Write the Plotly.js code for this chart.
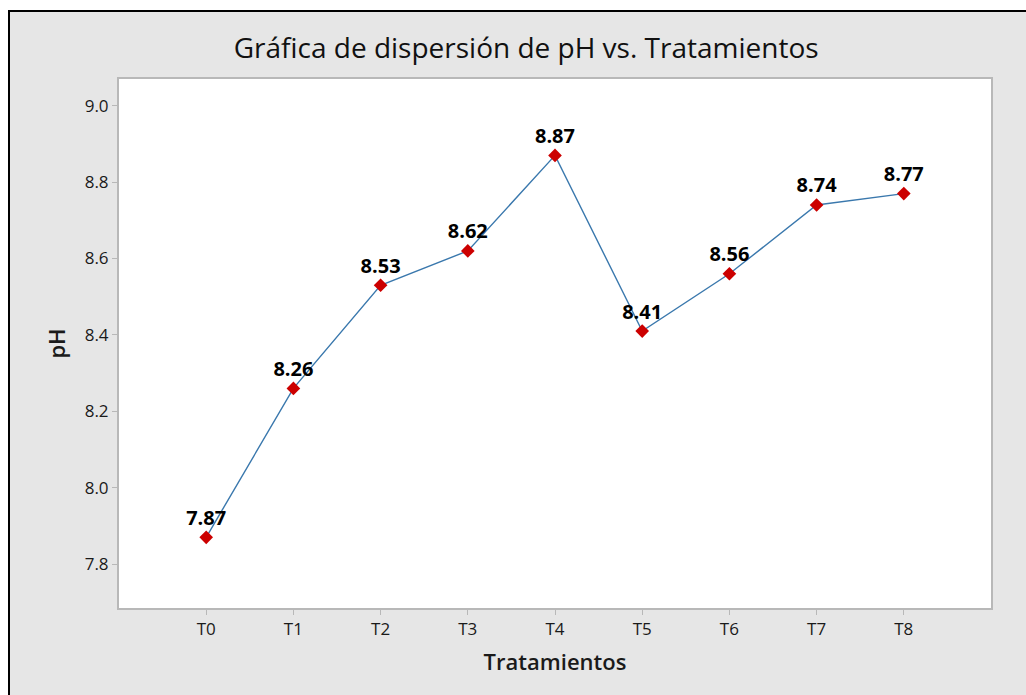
<!DOCTYPE html>
<html>
<head>
<meta charset="utf-8">
<script src="https://cdn.plot.ly/plotly-3.0.1.min.js"></script>
<style>
  html, body { margin: 0; padding: 0; background: #ffffff; width: 1026px; height: 695px; overflow: hidden; }
  #frame { position: absolute; left: 8px; top: 10px; width: 1018px; height: 685px; background: #e6e6e6;
           border-top: 2px solid #000; border-left: 2px solid #000; box-sizing: border-box; }
  #chart { position: absolute; left: 0; top: 0; width: 1016px; height: 683px; }
</style>
</head>
<body>
<div id="frame"><div id="chart"></div></div>
<script>
const categories = ["T0", "T1", "T2", "T3", "T4", "T5", "T6", "T7", "T8"];
const phValues = [7.87, 8.26, 8.53, 8.62, 8.87, 8.41, 8.56, 8.74, 8.77];
const phLabels = ["7.87", "8.26", "8.53", "8.62", "8.87", "8.41", "8.56", "8.74", "8.77"];
const yTickVals = [7.8, 8.0, 8.2, 8.4, 8.6, 8.8, 9.0];
const yTickText = ["7.8", "8.0", "8.2", "8.4", "8.6", "8.8", "9.0"];

const FONT = '"Open Sans", "Noto Sans", sans-serif';

const trace = {
  type: 'scatter',
  mode: 'lines+markers+text',
  x: categories,
  y: phValues,
  text: phLabels,
  textposition: 'top center',
  textfont: { family: FONT, size: 20, color: '#000000', weight: 'bold' },
  line: { color: '#3a78ad', width: 1.4 },
  marker: { symbol: 'diamond', size: 10.5, color: '#cc0000' },
  cliponaxis: false,
  hoverinfo: 'x+y'
};

const layout = {
  width: 1016,
  height: 683,
  margin: { l: 109, r: 35, t: 67, b: 87 },
  paper_bgcolor: '#e6e6e6',
  plot_bgcolor: '#ffffff',
  showlegend: false,
  font: { family: FONT, color: '#1a1a1a' },
  title: {
    text: 'Gráfica de dispersión de pH vs. Tratamientos',
    font: { family: FONT, size: 28, color: '#111111', weight: 500 },
    x: 0.508, xanchor: 'center',
    y: 0.947, yanchor: 'middle'
  },
  xaxis: {
    type: 'category',
    range: [-1, 9],
    showgrid: false,
    zeroline: false,
    showline: true, mirror: true, linecolor: '#b8b8b8', linewidth: 2,
    ticks: 'outside', ticklen: 5, tickcolor: '#b8b8b8', tickwidth: 1,
    tickfont: { family: FONT, size: 17, color: '#1a1a1a', weight: 500 },
    title: { text: 'Tratamientos', font: { family: FONT, size: 22, color: '#1a1a1a', weight: 600 }, standoff: 15 }
  },
  yaxis: {
    range: [7.685, 9.07],
    tickvals: yTickVals,
    ticktext: yTickText,
    showgrid: false,
    zeroline: false,
    showline: true, mirror: true, linecolor: '#b8b8b8', linewidth: 2,
    ticks: 'outside', ticklen: 5, tickcolor: '#b8b8b8', tickwidth: 1,
    tickfont: { family: FONT, size: 17, color: '#1a1a1a', weight: 500 },
    title: { text: 'pH', font: { family: FONT, size: 22, color: '#1a1a1a', weight: 600 }, standoff: 13 }
  }
};

Plotly.newPlot('chart', [trace], layout, { displayModeBar: false, staticPlot: true });
</script>
</body>
</html>
